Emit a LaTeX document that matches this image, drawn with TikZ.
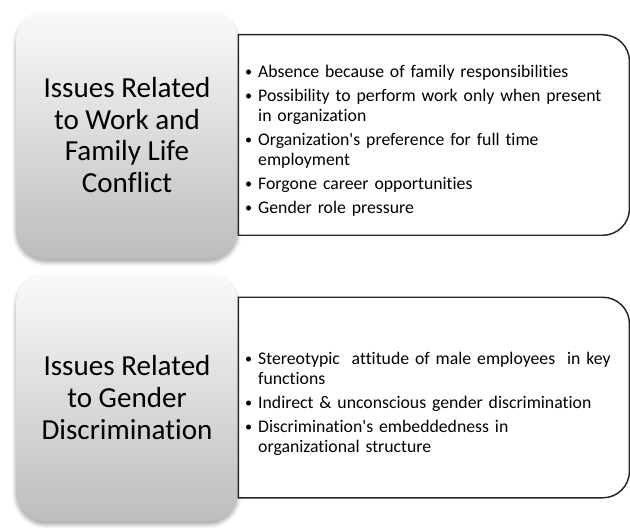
\documentclass[tikz,border=0pt]{standalone}
\usepackage{fontspec}
\setmainfont{Carlito}[Ligatures=NoCommon]
\usetikzlibrary{positioning,shadows.blur}

% one bullet point with a hanging indent
\newcommand{\issue}[1]{\par\hangindent=9.75pt\hangafter=1\noindent
  \makebox[9.75pt][l]{\raisebox{0.6pt}{\scalebox{0.8}{\textbullet}}}#1}

\tikzset{
  topic/.style={rounded corners=22.5pt, top color=gray!4, bottom color=gray!52,
    minimum width=166.5pt, minimum height=186pt, align=center,
    font=\fontsize{21.8}{23.8}\selectfont,
    blur shadow={shadow xshift=0pt, shadow yshift=-2.5pt, shadow blur radius=3pt, shadow opacity=35}},
  issues/.style={fill=white, minimum width=293pt, minimum height=150pt, text width=283pt,
    inner xsep=5pt, align=left, font=\fontsize{13.3}{15}\selectfont\setlength{\parskip}{3pt}},
  outline/.style={line width=1.1pt, draw=black!85},
}

\begin{document}
\begin{tikzpicture}
\useasboundingbox (0,0) rectangle (472.5pt,395.25pt);

\node[topic] (work) at (95.25pt,294pt) {Issues Related\\to Work and\\Family Life\\Conflict};
\node[topic, below=10.5pt of work] (gender) {Issues Related\\to Gender\\Discrimination};

\node[issues, right=0pt of work] (worklist) {%
\issue{Absence because of family responsibilities}
\issue{Possibility to perform work only when present\newline in organization}
\issue{Organization\textquotesingle s preference for full time\newline employment}
\issue{Forgone career opportunities}
\issue{Gender role pressure}\par};
\node[issues, right=0pt of gender] (genderlist) {%
\issue{Stereotypic\ \ attitude of male employees\ \ in key\newline functions}
\issue{Indirect \& unconscious gender discrimination}
\issue{Discrimination\textquotesingle s embeddedness in\newline organizational structure}\par};

% square on the left, rounded on the right
\draw[outline] (worklist.south west) -- (worklist.north west) -- ([xshift=-20pt]worklist.north east)
  arc[start angle=90, end angle=0, radius=20pt] -- ([yshift=20pt]worklist.south east)
  arc[start angle=0, end angle=-90, radius=20pt] -- cycle;
\draw[outline] (genderlist.south west) -- (genderlist.north west) -- ([xshift=-20pt]genderlist.north east)
  arc[start angle=90, end angle=0, radius=20pt] -- ([yshift=20pt]genderlist.south east)
  arc[start angle=0, end angle=-90, radius=20pt] -- cycle;
\end{tikzpicture}
\end{document}
